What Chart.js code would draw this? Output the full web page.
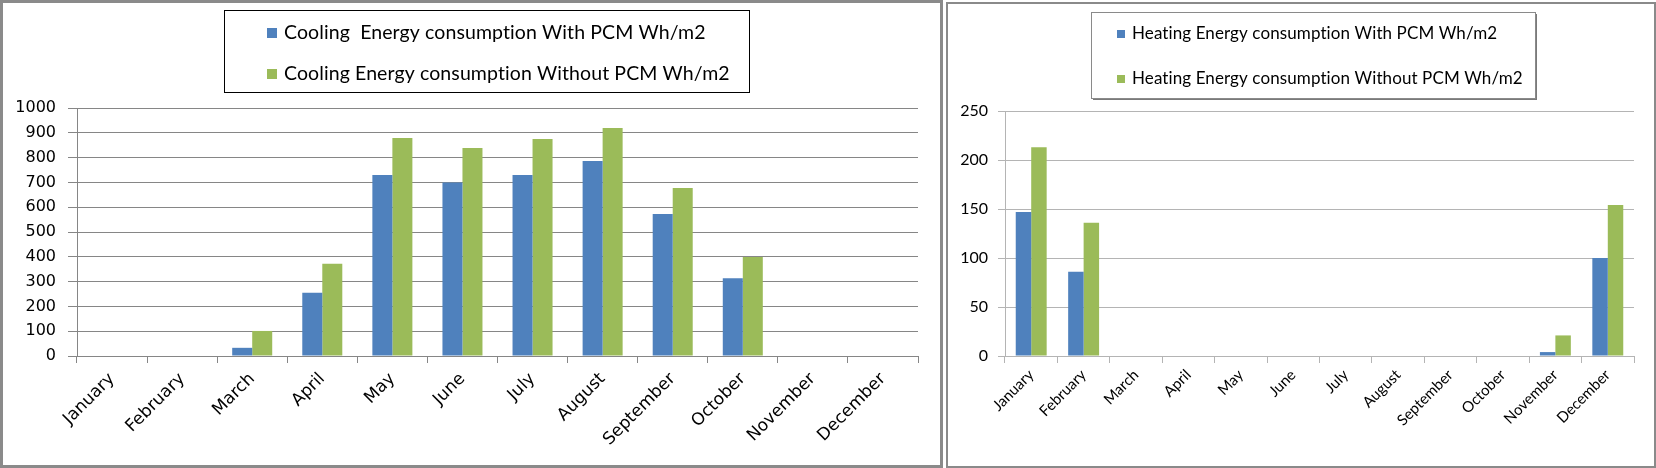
<!DOCTYPE html>
<html lang="en">
<head>
	<meta charset="UTF-8">
	<title>Cooling and Heating Energy consumption</title>
	<script src="https://cdn.jsdelivr.net/npm/chart.js"></script>
	<style>
		html, body { margin: 0; padding: 0; background: #fff; }
		body { width: 1656px; height: 468px; position: relative; overflow: hidden; }
		.panel { position: absolute; box-sizing: border-box; background: #fff; }
		#leftPanel { left: 0; top: 0; width: 943px; height: 468px; border: 3px solid #8a8a8a; }
		#rightPanel { left: 946px; top: 2px; width: 710px; height: 466px; border: 2px solid #8a8a8a; }
		canvas { display: block; }
	</style>
</head>
<body>
	<div id="leftPanel" class="panel"><canvas id="coolingChart" width="937" height="462"></canvas></div>
	<div id="rightPanel" class="panel"><canvas id="heatingChart" width="706" height="462"></canvas></div>

	<script>
		const months = ["January", "February", "March", "April", "May", "June", "July", "August", "September", "October", "November", "December"]

		const coolingWithPcm = [0, 0, 33, 255, 730, 700, 730, 786, 573, 314, 0, 0]
		const coolingWithoutPcm = [0, 0, 101, 372, 879, 839, 875, 919, 677, 399, 0, 0]
		const heatingWithPcm = [147, 86, 0, 0, 0, 0, 0, 0, 0, 0, 4, 100]
		const heatingWithoutPcm = [213, 136, 0, 0, 0, 0, 0, 0, 0, 0, 21, 154]

		const coolingLabels = ["Cooling  Energy consumption With PCM Wh/m2", "Cooling Energy consumption Without PCM Wh/m2"]
		const heatingLabels = ["Heating Energy consumption With PCM Wh/m2", "Heating Energy consumption Without PCM Wh/m2"]

		const blue = "#4f81bd"
		const green = "#9bbb59"

		// legend drawn inside a framed box, like the spreadsheet one
		const boxLegend = {
			id: "boxLegend",
			afterDraw(chart, args, opts) {
				const ctx = chart.ctx
				const b = opts.box
				ctx.save()
				if(opts.shadow) {
					ctx.fillStyle = "#7a7a7a"
					ctx.fillRect(b.x + 2, b.y + 2, b.w, b.h)
				}
				ctx.fillStyle = "#fff"
				ctx.fillRect(b.x, b.y, b.w, b.h)
				ctx.strokeStyle = opts.borderColor
				ctx.lineWidth = 1
				ctx.strokeRect(b.x + 0.5, b.y + 0.5, b.w, b.h)
				ctx.font = opts.font
				ctx.letterSpacing = "0.1px" // keeps Lato from joining "ti"
				ctx.textBaseline = "middle"
				chart.data.datasets.forEach((ds, i) => {
					const y = opts.rows[i]
					ctx.fillStyle = ds.backgroundColor
					ctx.fillRect(opts.markerX, y - opts.marker / 2, opts.marker, opts.marker)
					ctx.fillStyle = "#000"
					ctx.fillText(ds.label, opts.textX, y)
				})
				ctx.restore()
			}
		}

		function makeChart(id, cfg) {
			return new Chart(document.getElementById(id), {
				type: "bar",
				data: {
					labels: months,
					datasets: cfg.series.map((data, i) => ({
						label: cfg.labels[i],
						data: data,
						backgroundColor: [blue, green][i],
						borderWidth: 0,
						categoryPercentage: cfg.catPct,
						barPercentage: 1
					}))
				},
				options: {
					responsive: false,
					animation: false,
					devicePixelRatio: 1,
					layout: { padding: cfg.padding },
					plugins: {
						legend: { display: false },
						tooltip: { enabled: false },
						boxLegend: cfg.legend
					},
					scales: {
						x: {
							offset: true,
							grid: { offset: true, drawOnChartArea: false, color: cfg.gridColor, tickLength: 7 },
							border: { color: cfg.gridColor },
							ticks: { minRotation: 45, maxRotation: 45, autoSkip: false, color: "#000", font: cfg.xFont, padding: cfg.xPad },
							afterFit(scale) { scale.height = cfg.xHeight }
						},
						y: {
							min: 0,
							max: cfg.max,
							ticks: { stepSize: cfg.step, color: "#000", font: cfg.yFont, padding: cfg.yPad, callback: v => String(v) },
							grid: { color: cfg.gridColor, tickLength: cfg.tickLen },
							border: { color: cfg.gridColor },
							afterFit(scale) { scale.width = cfg.yWidth }
						}
					}
				},
				plugins: [boxLegend]
			})
		}

		makeChart("coolingChart", {
			series: [coolingWithPcm, coolingWithoutPcm],
			labels: coolingLabels,
			catPct: 0.571,
			padding: { left: 0, right: 22, top: 105, bottom: 0 },
			gridColor: "#868686",
			max: 1000,
			step: 100,
			xHeight: 109,
			xPad: 6,
			yWidth: 74,
			yPad: 12,
			tickLen: 9,
			xFont: { family: "DejaVu Sans", size: 17 },
			yFont: { family: "DejaVu Sans", size: 16 },
			legend: {
				box: { x: 221, y: 7, w: 525, h: 82 },
				borderColor: "#000",
				shadow: false,
				font: "19.5px Lato",
				marker: 10,
				markerX: 264,
				textX: 281,
				rows: [30, 71]
			}
		})

		makeChart("heatingChart", {
			series: [heatingWithPcm, heatingWithoutPcm],
			labels: heatingLabels,
			catPct: 0.59,
			padding: { left: 0, right: 20, top: 107, bottom: 0 },
			gridColor: "#b4b4b4",
			max: 250,
			step: 50,
			xHeight: 110,
			xPad: 3,
			yWidth: 57,
			yPad: 10,
			tickLen: 7,
			xFont: { family: "Lato", size: 15 },
			yFont: { family: "Lato", size: 16 },
			legend: {
				box: { x: 143, y: 8, w: 444, h: 86 },
				borderColor: "#8a8a8a",
				shadow: true,
				font: "17px Lato",
				marker: 8,
				markerX: 169,
				textX: 184,
				rows: [30, 75]
			}
		})
	</script>
</body>
</html>
